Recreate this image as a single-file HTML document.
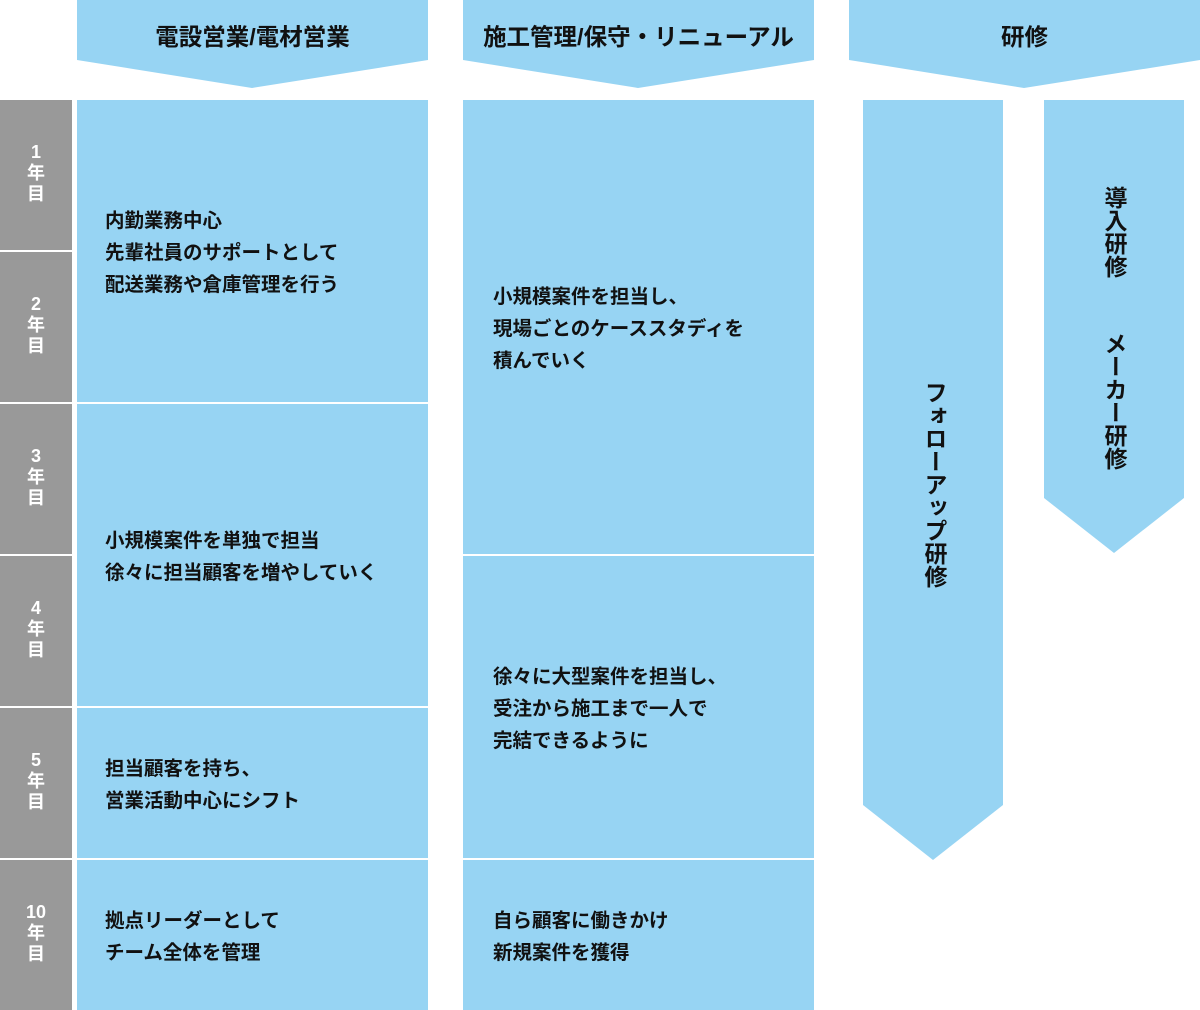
<!DOCTYPE html>
<html><head><meta charset="utf-8"><style>
body{margin:0;width:1200px;height:1010px;position:relative;background:#fff;font-family:"Liberation Sans","Noto Sans CJK JP",sans-serif;font-weight:bold;overflow:hidden}
.a{position:absolute}
.g{position:absolute;left:0;width:72px;height:150px;background:#999;color:#fff;display:flex;align-items:center;justify-content:center;text-align:center;font-size:18px;line-height:21px;padding-bottom:4px;box-sizing:border-box}
.c{position:absolute;background:#97d4f3;display:flex;align-items:center;box-sizing:border-box;padding-left:28px;padding-top:4px;font-size:19.5px;line-height:32px;color:#111}
.h{position:absolute;top:0;height:60px;display:flex;align-items:center;justify-content:center;font-size:23.5px;color:#111;padding-top:10px;box-sizing:border-box}
.v{position:absolute;writing-mode:vertical-rl;font-size:23px;color:#111}
</style></head><body>
<svg class="a" style="left:0;top:0" width="1200" height="1010">
<g fill="#97d4f3">
<polygon points="77,0 428,0 428,60 252,88 77,60"/>
<polygon points="463,0 814,0 814,60 638,88 463,60"/>
<polygon points="849,0 1200,0 1200,60 1024,88 849,60"/>
<polygon points="863,100 1003,100 1003,805 933,860 863,805"/>
<polygon points="1044,100 1184,100 1184,498 1114,553 1044,498"/>
</g></svg>
<div class="h" style="left:77px;width:351px">電設営業/電材営業</div>
<div class="h" style="left:463px;width:351px">施工管理/保守・リニューアル</div>
<div class="h" style="left:849px;width:351px">研修</div>

<div class="g" style="top:100px">1<br>年<br>目</div>
<div class="g" style="top:252px">2<br>年<br>目</div>
<div class="g" style="top:404px">3<br>年<br>目</div>
<div class="g" style="top:556px">4<br>年<br>目</div>
<div class="g" style="top:708px">5<br>年<br>目</div>
<div class="g" style="top:860px">10<br>年<br>目</div>

<div class="c" style="left:77px;width:351px;top:100px;height:302px">内勤業務中心<br>先輩社員のサポートとして<br>配送業務や倉庫管理を行う</div>
<div class="c" style="left:77px;width:351px;top:404px;height:302px">小規模案件を単独で担当<br>徐々に担当顧客を増やしていく</div>
<div class="c" style="left:77px;width:351px;top:708px;height:150px">担当顧客を持ち、<br>営業活動中心にシフト</div>
<div class="c" style="left:77px;width:351px;top:860px;height:150px">拠点リーダーとして<br>チーム全体を管理</div>

<div class="c" style="left:463px;width:351px;top:100px;height:454px;padding-left:30px">小規模案件を担当し、<br>現場ごとのケーススタディを<br>積んでいく</div>
<div class="c" style="left:463px;width:351px;top:556px;height:302px;padding-left:30px">徐々に大型案件を担当し、<br>受注から施工まで一人で<br>完結できるように</div>
<div class="c" style="left:463px;width:351px;top:860px;height:150px;padding-left:30px">自ら顧客に働きかけ<br>新規案件を獲得</div>

<div class="v" style="left:917px;top:381px">フォローアップ研修</div>
<div class="v" style="left:1097px;top:186px">導入研修</div>
<div class="v" style="left:1097px;top:332px">メーカー研修</div>
</body></html>
